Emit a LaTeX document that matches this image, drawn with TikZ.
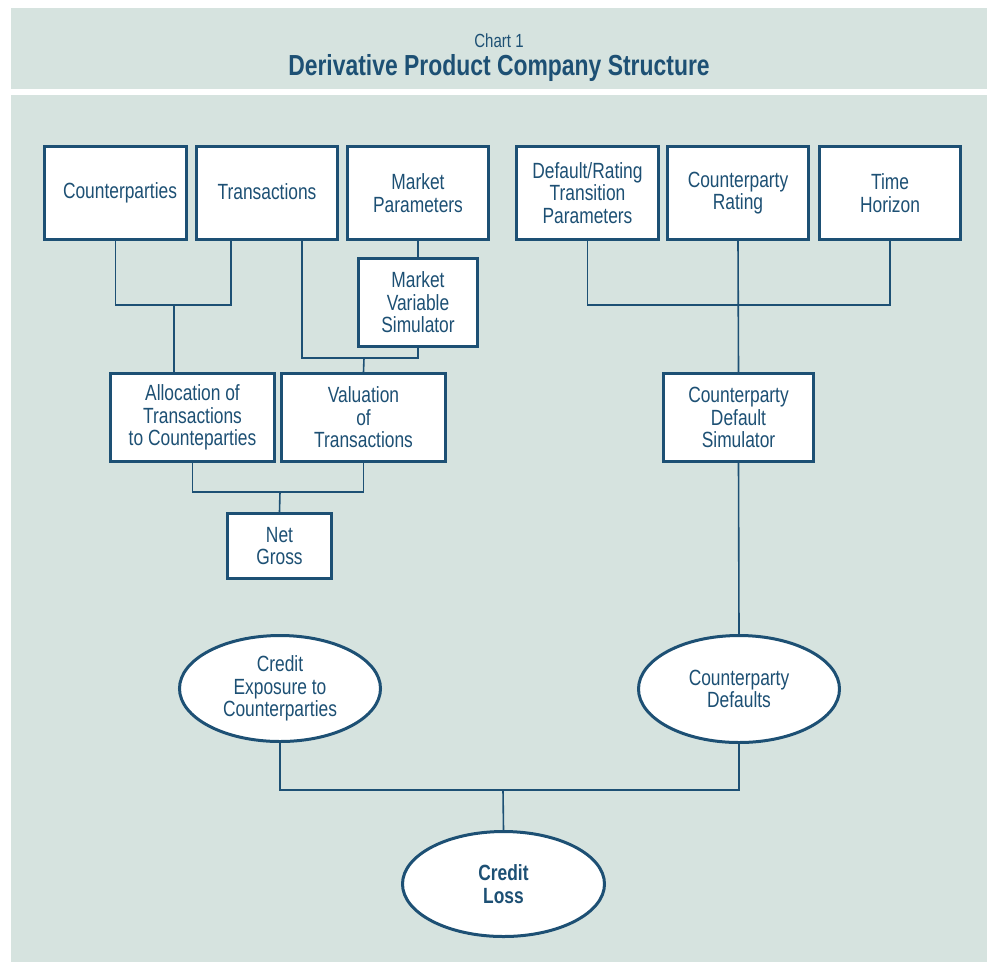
\documentclass[tikz,border=0pt]{standalone}
\usepackage{fontspec}
\setmainfont{Liberation Sans}[FakeStretch=0.79]
\usetikzlibrary{shapes.geometric}
\definecolor{panel}{HTML}{D6E3DF}
\definecolor{ink}{HTML}{1D5074}
\begin{document}
\begin{tikzpicture}[x=1pt,y=-1pt,
  every node/.style={text=ink,align=center,font=\fontsize{22}{22.5}\selectfont},
  box/.style={draw=ink,line width=3pt,fill=white,rectangle,inner sep=0pt},
  oval/.style={draw=ink,line width=3pt,fill=white,ellipse,inner sep=0pt},
  conn/.style={draw=ink,line width=1.6pt}]
\useasboundingbox (0,0) rectangle (987,962);
% background bands
\fill[panel] (11,8) rectangle (987,89);
\fill[panel] (11,95) rectangle (987,962);
% title
\node (chart) at (499,41) {\fontsize{19}{20}\selectfont Chart 1};
\node (title) at (499,68) {\fontsize{29}{30}\selectfont\bfseries Derivative Product Company Structure};
% top row, left group
\node[box,minimum width=142,minimum height=93] (cp) at (115.5,193) {\hspace*{9pt}Counterparties};
\node[box,minimum width=141,minimum height=93] (tr) at (267,193) {\raisebox{2pt}{Transactions}};
\node[box,minimum width=141,minimum height=93] (mp) at (418,193) {Market\\Parameters};
\node[box,minimum width=119,minimum height=88] (mvs) at (418,302.5) {Market\\Variable\\Simulator};
\node[box,minimum width=164,minimum height=88] (alloc) at (192.5,417.5) {Allocation of\\Transactions\\to Counteparties};
\node[box,minimum width=164,minimum height=88] (val) at (363.5,417.5) {Valuation\\of\\Transactions};
\node[box,minimum width=104,minimum height=65] (net) at (279.5,546) {Net\\Gross};
% top row, right group
\node[box,minimum width=142,minimum height=93] (drt) at (587.5,193) {Default/Rating\\Transition\\Parameters};
\node[box,minimum width=141,minimum height=93] (crt) at (738,193) {Counterparty\\Rating};
\node[box,minimum width=141,minimum height=93] (th) at (890,193) {Time\\Horizon};
\node[box,minimum width=150,minimum height=88] (cds) at (738.5,417.5) {Counterparty\\Default\\Simulator};
% ellipses
\node[oval,minimum width=201,minimum height=106] (ce) at (280,688.5) {Credit\\Exposure to\\Counterparties};
\node[oval,minimum width=201,minimum height=107] (cd) at (739,689) {Counterparty\\Defaults};
\node[oval,minimum width=202,minimum height=105] (cl) at (503.5,884) {\bfseries Credit\\\bfseries Loss};
% junctions
\coordinate (j1) at (174,305);
\coordinate (j2) at (364,358);
\coordinate (j3) at (280,492);
\coordinate (j4) at (739,305);
\coordinate (j5) at (503,790);
% connectors
\draw[conn] (cp.south) |- (j1) -| ([xshift=-36pt]tr.south);
\draw[conn] (j1) -- ([xshift=-18.5pt]alloc.north);
\draw[conn] (mp.south) -- (mvs.north);
\draw[conn] ([xshift=35pt]tr.south) |- (j2) -| (mvs.south);
\draw[conn] (j2) -- (val.north);
\draw[conn] (alloc.south) |- (j3) -| (val.south);
\draw[conn] (j3) -- (net.north);
\draw[conn] (drt.south) |- (j4) -| (th.south);
\draw[conn] (crt.south) -- (cds.north);
\draw[conn] (cds.south) -- (cd.north);
\draw[conn] (ce.south) |- (j5) -| (cd.south);
\draw[conn] (j5) -- (cl.north);
\end{tikzpicture}
\end{document}
